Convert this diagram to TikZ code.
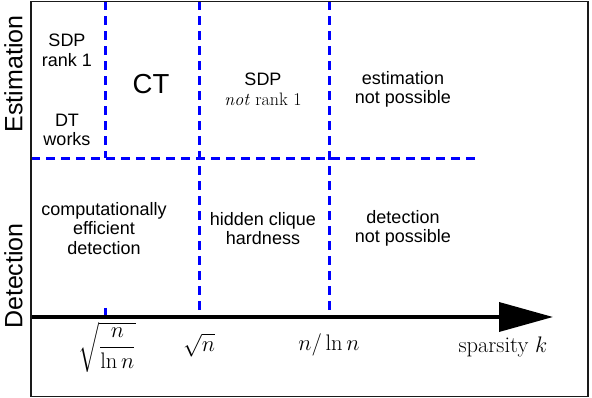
\documentclass[tikz,border=0pt]{standalone}
\usepackage{fix-cm}
\usepackage{amsmath}
\usepackage{fontspec}
\setsansfont{Liberation Sans}
\usetikzlibrary{arrows.meta, positioning, calc}
\definecolor{sepblue}{HTML}{0000FF}
\definecolor{framedark}{HTML}{1A1A1A}

\begin{document}
\begin{tikzpicture}[
    x=1pt, y=1pt,
    font=\sffamily,
    every node/.style={inner sep=0pt},
    regiontext/.style={
        font=\sffamily\fontsize{18}{19.5}\selectfont, align=center, text=black
    },
    bigtext/.style={font=\sffamily\fontsize{27.5}{30}\selectfont, text=black},
    sidelabel/.style={font=\sffamily\fontsize{25}{28}\selectfont, rotate=90},
    klabel/.style={font=\fontsize{22.5}{26}\selectfont},
    frame/.style={draw=framedark, line width=1.3pt},
    sepline/.style={draw=sepblue, line width=3pt, dash pattern=on 9pt off 6pt},
    axisline/.style={line width=3.6pt, -{Triangle[length=54pt, width=29pt]}},
]

\useasboundingbox (0,0) rectangle (592,398);

% === corners, separators and axis points ===
\coordinate (boxSW) at (31,1.5);
\coordinate (boxNE) at (588,396.5);
\coordinate (sepW) at (31,239.5);
\coordinate (sepE) at (478,239.5);
\coordinate (topA) at (105,396.5);
\coordinate (midA) at (105,239.5);
\coordinate (tickA) at (105,90);
\coordinate (kA) at (105,81);
\coordinate (topB) at (199,396.5);
\coordinate (kB) at (199,81);
\coordinate (topC) at (329,396.5);
\coordinate (kC) at (329,81);
\coordinate (axisW) at (31,81);
\coordinate (axisE) at (553,81);

% === dashed region borders ===
\draw[sepline] (sepW) -- (sepE);
\draw[sepline] (topA) -- (midA);
\draw[sepline] (tickA) -- (kA);
\draw[sepline] (topB) -- (kB);
\draw[sepline] (topC) -- (kC);

% === sparsity axis ===
\draw[axisline] (axisW) -- (axisE);

% === outer frame ===
\draw[frame] (boxSW) rectangle (boxNE);

% === side labels ===
\node[sidelabel] (estim) at (13.5,324) {Estimation};
\node[sidelabel] (detect) at (13.5,122) {Detection};

% === estimation row ===
\node[regiontext] (sdpone) at (67,347.5) {SDP\\rank 1};
\node[regiontext] (dtworks) at (67,268) {DT\\works};
\node[bigtext] (ct) at (151,314) {CT};
\node[regiontext] (sdpnot) at (263,308.5) {SDP\\\rmfamily\textit{not} rank 1};
\node[regiontext] (estnot) at (403,308.5) {estimation\\not possible};

% === detection row ===
\node[regiontext] (effdet) at (104,169.5) {computationally\\efficient\\detection};
\node[regiontext] (hidden) at (263,169.5) {hidden clique\\hardness};
\node[regiontext] (detnot) at (403,169.5) {detection\\not possible};

% === axis labels ===
\node[klabel] (lblA) at ($(kA)+(2,-30)$) {$\sqrt{\dfrac{n}{\ln n}}$};
\node[klabel] (lblB) at ($(kB)+(0,-28)$) {$\sqrt{n}$};
\node[klabel] (lblC) at ($(kC)+(0,-28)$) {$n/\ln n$};
\node[klabel] (lblK) at ($(axisE)+(-50,-30)$) {sparsity $k$};

\end{tikzpicture}
\end{document}
